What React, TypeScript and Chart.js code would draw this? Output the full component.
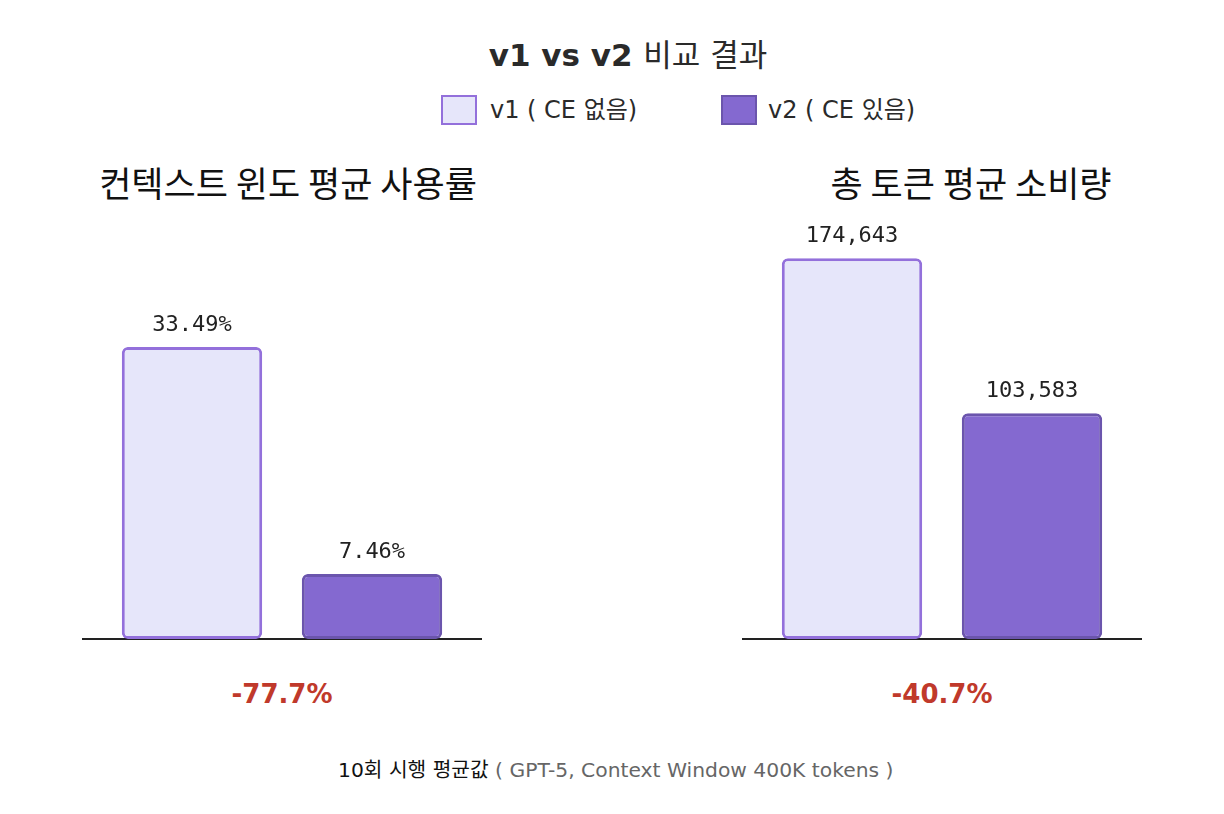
import { useEffect, useRef } from "react";
import { Chart, registerables } from "chart.js";

Chart.register(...registerables);

const seriesNames = ["v1 ( CE 없음)", "v2 ( CE 있음)"];
const metricTitles = ["컨텍스트 윈도 평균 사용률", "총 토큰 평균 소비량"];
const contextUsage = [33.49, 7.46];
const tokenUsage = [174643, 103583];
const axisMax = [50, 200000];
const changeLabels = ["-77.7%", "-40.7%"];

const fillColors = ["#e6e6fa", "#8469d0"];
const borderColors = ["#9370db", "#6b55ad"];

const KR = '"DejaVu Sans", "Noto Sans CJK KR", sans-serif';

function MetricChart({
  values,
  max,
  format
}: {
  values: number[];
  max: number;
  format: (v: number) => string;
}) {
  const canvasRef = useRef<HTMLCanvasElement | null>(null);

  useEffect(() => {
    if (!canvasRef.current) {
      return;
    }

    // value text above each bar
    const valueLabels = {
      id: "valueLabels",
      afterDatasetsDraw(chart: Chart) {
        const ctx = chart.ctx;
        ctx.save();
        ctx.font = '500 22px "DejaVu Sans Mono", monospace';
        ctx.fillStyle = "#222";
        ctx.textAlign = "center";
        ctx.textBaseline = "bottom";
        chart.data.datasets.forEach((ds, i) => {
          chart.getDatasetMeta(i).data.forEach((bar: any, j) => {
            ctx.fillText(format(ds.data[j] as number), bar.x, bar.y - 11);
          });
        });
        ctx.restore();
      }
    };

    const chart = new Chart(canvasRef.current, {
      type: "bar",
      data: {
        labels: [""],
        datasets: values.map((v, i) => ({
          label: seriesNames[i],
          data: [v],
          backgroundColor: fillColors[i],
          borderColor: borderColors[i],
          borderWidth: 3,
          borderRadius: 6,
          borderSkipped: false,
          categoryPercentage: 0.9,
          barPercentage: 0.78
        }))
      },
      options: {
        animation: false,
        responsive: true,
        maintainAspectRatio: false,
        layout: { padding: { top: 0, bottom: 2, left: 0, right: 0 } },
        scales: {
          x: {
            ticks: { display: false },
            grid: { display: false, drawTicks: false },
            border: { display: true, color: "#222", width: 2 }
          },
          y: { display: false, min: 0, max }
        },
        plugins: {
          legend: { display: false },
          tooltip: { enabled: false }
        }
      },
      plugins: [valueLabels]
    });
    return () => chart.destroy();
  }, [values, max, format]);

  return <canvas ref={canvasRef} />;
}

const pctFormat = (v: number) => `${v.toFixed(2)}%`;
const numFormat = (v: number) => v.toLocaleString("en-US");

const abs = (left: number, top: number, extra: React.CSSProperties = {}): React.CSSProperties => ({
  position: "absolute",
  left,
  top,
  whiteSpace: "nowrap",
  ...extra
});

export default function App() {
  return (
    <div
      style={{
        position: "absolute",
        left: 0,
        top: 0,
        width: 1224,
        height: 814,
        background: "#fff",
        fontFamily: KR,
        color: "#222"
      }}
    >
      <div
        style={abs(628, 35, {
          transform: "translateX(-50%)",
          fontSize: 31,
          lineHeight: "40px",
          fontWeight: 700,
          color: "#2a2a2a"
        })}
      >
        v1 vs v2 <span style={{ fontWeight: 400 }}>비교 결과</span>
      </div>

      {seriesNames.map((name, i) => (
        <div key={name}>
          <div
            style={abs([441, 721][i], 95, {
              width: 32,
              height: 26,
              background: fillColors[i],
              border: `2px solid ${borderColors[i]}`
            })}
          />
          <div
            style={abs([490, 768][i], 95, {
              fontSize: 24,
              lineHeight: "30px",
              color: "#2a2a2a"
            })}
          >
            {name}
          </div>
        </div>
      ))}

      {metricTitles.map((t, i) => (
        <div
          key={t}
          style={abs([288, 971][i], 160, {
            transform: "translateX(-50%)",
            fontSize: 35,
            lineHeight: "44px",
            fontFamily: '"Noto Sans CJK KR", sans-serif',
            color: "#111"
          })}
        >
          {t}
        </div>
      ))}

      <div style={{ position: "absolute", left: 82, top: 203, width: 400, height: 438 }}>
        <MetricChart values={contextUsage} max={axisMax[0]} format={pctFormat} />
      </div>
      <div style={{ position: "absolute", left: 742, top: 203, width: 400, height: 438 }}>
        <MetricChart values={tokenUsage} max={axisMax[1]} format={numFormat} />
      </div>

      {changeLabels.map((c, i) => (
        <div
          key={c}
          style={abs([282, 942][i], 676, {
            transform: "translateX(-50%)",
            fontSize: 26,
            lineHeight: "36px",
            fontWeight: 700,
            color: "#c0392b"
          })}
        >
          {c}
        </div>
      ))}

      <div style={abs(338, 756, { fontSize: 20.3, lineHeight: "28px", color: "#111" })}>
        10회 시행 평균값{" "}
        <span style={{ color: "#666" }}>( GPT-5, Context Window 400K tokens )</span>
      </div>
    </div>
  );
}
